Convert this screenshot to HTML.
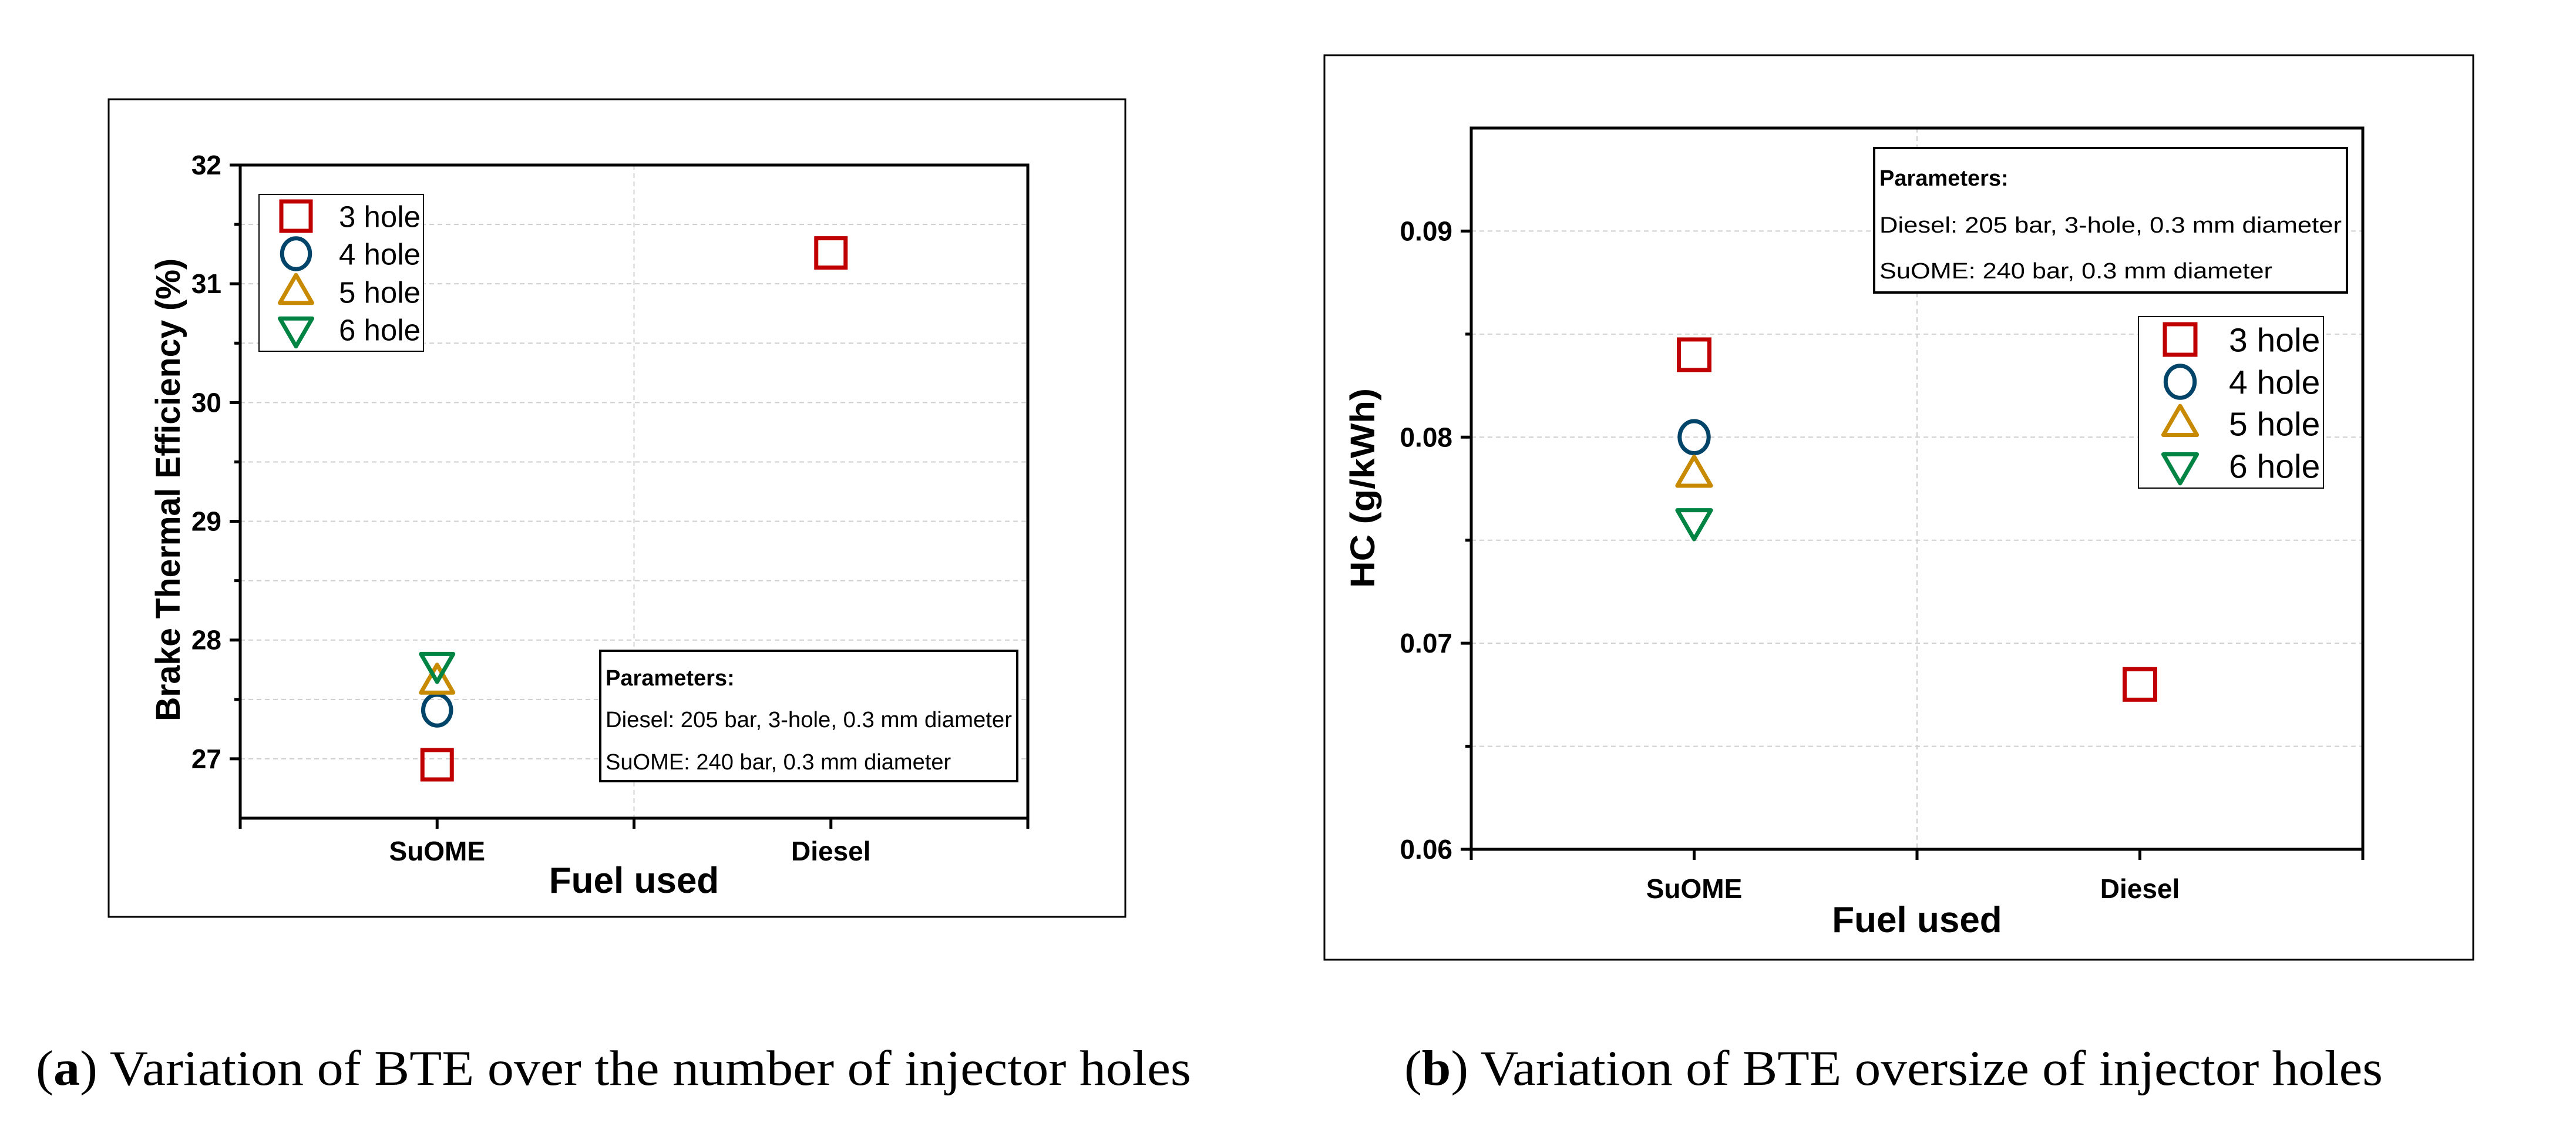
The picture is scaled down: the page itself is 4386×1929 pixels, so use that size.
<!DOCTYPE html>
<html><head><meta charset="utf-8"><style>
html,body{margin:0;padding:0;background:#fff;}
svg{display:block;}
text{font-family:"Liberation Sans",Arial,sans-serif;}
</style></head><body>
<svg id="fig" width="4386" height="1929" viewBox="0 0 4386 1929" xmlns="http://www.w3.org/2000/svg">
<rect width="4386" height="1929" fill="#fff"/>
<g id="chartA"></g>
<g id="chartB"></g>
<text x="61" y="1847" font-size="85" style="font-family:'Liberation Serif',serif" textLength="1967" lengthAdjust="spacingAndGlyphs">(<tspan font-weight="bold">a</tspan>) Variation of BTE over the number of injector holes</text>
<text x="2391" y="1847" font-size="85" style="font-family:'Liberation Serif',serif" textLength="1666" lengthAdjust="spacingAndGlyphs">(<tspan font-weight="bold">b</tspan>) Variation of BTE oversize of injector holes</text>
</svg>
<script>
const categories = ["SuOME", "Diesel"];
const seriesNames = ["3 hole", "4 hole", "5 hole", "6 hole"];
const bte3 = [26.95, 31.26];
const bte4 = [27.41, null];
const bte5 = [27.65, null];
const bte6 = [27.79, null];
const hc3 = [0.084, 0.068];
const hc4 = [0.080, null];
const hc5 = [0.0782, null];
const hc6 = [0.0759, null];
const bteTicks = [27, 28, 29, 30, 31, 32];
const bteGrid = [27.5, 28.5, 29.5, 30.5, 31.5];
const hcTicks = [0.06, 0.07, 0.08, 0.09];
const hcGrid = [0.065, 0.075, 0.085];
const paramLines = ["Parameters:", "Diesel: 205 bar, 3-hole, 0.3 mm diameter", "SuOME: 240 bar, 0.3 mm diameter"];

const NS = "http://www.w3.org/2000/svg";
const colors = ["#c00000", "#00446a", "#c88a00", "#008444"];
const shapes = ["square", "circle", "up", "down"];
function mk(parent, tag, attrs, txt) {
  const e = document.createElementNS(NS, tag);
  for (const k in attrs) e.setAttribute(k, attrs[k]);
  if (txt !== undefined) e.textContent = txt;
  parent.appendChild(e);
  return e;
}
function marker(g, shape, cx, cy, s, color) {
  const h = s / 2, sw = 7;
  let m;
  if (shape === "square") m = mk(g, "rect", {x: cx - h, y: cy - h, width: s, height: s, fill: "none", stroke: color, "stroke-width": sw});
  else if (shape === "circle") m = mk(g, "ellipse", {cx: cx, cy: cy, rx: h * 0.95, ry: h * 1.05, fill: "none", stroke: color, "stroke-width": sw});
  else if (shape === "up") m = mk(g, "polygon", {points: `${cx},${cy - h * 1.15} ${cx - h * 1.1},${cy + h * 0.75} ${cx + h * 1.1},${cy + h * 0.75}`, fill: "none", stroke: color, "stroke-width": sw, "stroke-linejoin": "round"});
  else m = mk(g, "polygon", {points: `${cx},${cy + h * 1.15} ${cx - h * 1.1},${cy - h * 0.75} ${cx + h * 1.1},${cy - h * 0.75}`, fill: "none", stroke: color, "stroke-width": sw, "stroke-linejoin": "round"});
  return m;
}
function drawChart(cfg) {
  const g = document.getElementById(cfg.id);
  const {L, R, T, B} = cfg;
  const xs = v => L + (v - 0.5) / 2 * (R - L);
  const ys = v => B - (v - cfg.ymin) / (cfg.ymax - cfg.ymin) * (B - T);
  const fr = mk(g, "rect", {x: cfg.frame[0], y: cfg.frame[1], width: cfg.frame[2] - cfg.frame[0], height: cfg.frame[3] - cfg.frame[1], fill: "none", stroke: "#000", "stroke-width": 3});
  
  
  cfg.grid.concat(cfg.ticks).forEach(v => {
    const ln = mk(g, "line", {x1: L, x2: R, y1: ys(v), y2: ys(v), stroke: "#cfcfcf", "stroke-width": 2, "stroke-dasharray": "8,6"});
    
    
  });
  const vg = mk(g, "line", {x1: xs(1.5), x2: xs(1.5), y1: T, y2: B, stroke: "#cfcfcf", "stroke-width": 2, "stroke-dasharray": "8,6"});
  
  
  const ax = mk(g, "rect", {x: L, y: T, width: R - L, height: B - T, fill: "none", stroke: "#000", "stroke-width": 5});
  
  
  cfg.ticks.forEach(v => {
    const t = mk(g, "line", {x1: L - 18, x2: L, y1: ys(v), y2: ys(v), stroke: "#000", "stroke-width": 5});
    
    
    const lb = mk(g, "text", {x: L - 32, y: ys(v) + 16, "text-anchor": "end", "font-size": 46, "font-weight": "bold"}, cfg.fmt(v));
    
    
  });
  cfg.grid.forEach(v => {
    const t = mk(g, "line", {x1: L - 10, x2: L, y1: ys(v), y2: ys(v), stroke: "#000", "stroke-width": 5});
    
    
  });
  [0.5, 1, 1.5, 2, 2.5].forEach(v => {
    const t = mk(g, "line", {x1: xs(v), x2: xs(v), y1: B, y2: B + 18, stroke: "#000", "stroke-width": 5});
    
    
  });
  categories.forEach((c, i) => {
    const lb = mk(g, "text", {x: xs(i + 1), y: cfg.xlabY, "text-anchor": "middle", "font-size": 46, "font-weight": "bold"}, c);
    
    
  });
  const xt = mk(g, "text", {x: (L + R) / 2, y: cfg.xtitleY, "text-anchor": "middle", "font-size": 62, "font-weight": "bold"}, "Fuel used");
  
  
  const yt = mk(g, "text", {x: 0, y: 0, "text-anchor": "middle", "font-size": 58, "font-weight": "bold", transform: `translate(${cfg.ytitle[0]},${cfg.ytitle[1]}) rotate(-90)`, textLength: cfg.ytitle[2], lengthAdjust: "spacingAndGlyphs"}, cfg.ytitleText);
  
  
  const pb = cfg.pbox;
  const pg = mk(g, "g", {});
  
  
  mk(pg, "rect", {x: pb[0], y: pb[1], width: pb[2] - pb[0], height: pb[3] - pb[1], fill: "#fff", stroke: "#000", "stroke-width": 4});
  paramLines.forEach((s, i) => {
    const a = {x: pb[0] + 9, y: pb[4][i] + 13, "font-size": 38};
    if (i === 0) a["font-weight"] = "bold";
    if (i === 1) { a.textLength = pb[2] - pb[0] - 18; a.lengthAdjust = "spacingAndGlyphs"; }
    if (i === 2) { a.textLength = (pb[2] - pb[0] - 18) * 0.85; a.lengthAdjust = "spacingAndGlyphs"; }
    const t = mk(pg, "text", a, s);
    
    
  });
  const lg = cfg.legend;
  const lgg = mk(g, "g", {});
  
  
  mk(lgg, "rect", {x: lg[0], y: lg[1], width: lg[2] - lg[0], height: lg[3] - lg[1], fill: "#fff", stroke: "#000", "stroke-width": 2});
  seriesNames.forEach((n, i) => {
    const e = mk(lgg, "g", {});
    
    
    marker(e, shapes[i], lg[4], lg[6][i], cfg.lsize, colors[i]);
    mk(e, "text", {x: lg[5], y: lg[6][i] + cfg.lfont * 0.36, "font-size": cfg.lfont}, n);
  });
  cfg.series.forEach((arr, si) => {
    arr.forEach((v, ci) => {
      if (v === null) return;
      const m = marker(g, shapes[si], xs(ci + 1), ys(v), cfg.msize, colors[si]);
      
      
    });
  });
}
drawChart({
  id: "chartA", L: 409, R: 1750, T: 281, B: 1393, ymin: 26.5, ymax: 32,
  frame: [185, 169, 1916, 1561], ticks: bteTicks, grid: bteGrid, fmt: v => String(v),
  xlabY: 1465, xtitleY: 1520, ytitle: [306, 834, 788], ytitleText: "Brake Thermal Efficiency (%)",
  pbox: [1022, 1108, 1732, 1330, [1154, 1225, 1297]],
  legend: [441, 331, 721, 598, 504, 577, [368, 432, 497, 561]], lsize: 50, lfont: 51, msize: 50,
  series: [bte3, bte4, bte5, bte6]
});
drawChart({
  id: "chartB", L: 2505, R: 4023, T: 218, B: 1446, ymin: 0.06, ymax: 0.095,
  frame: [2255, 94, 4211, 1634], ticks: hcTicks, grid: hcGrid, fmt: v => v.toFixed(2),
  xlabY: 1529, xtitleY: 1587, ytitle: [2340, 831, 340], ytitleText: "HC (g/kWh)",
  pbox: [3191, 252, 3996, 498, [303, 383, 461]],
  legend: [3641, 539, 3956, 831, 3712, 3795, [578, 650, 721, 793]], lsize: 52, lfont: 57, msize: 52,
  series: [hc3, hc4, hc5, hc6]
});
</script>
</body></html>
